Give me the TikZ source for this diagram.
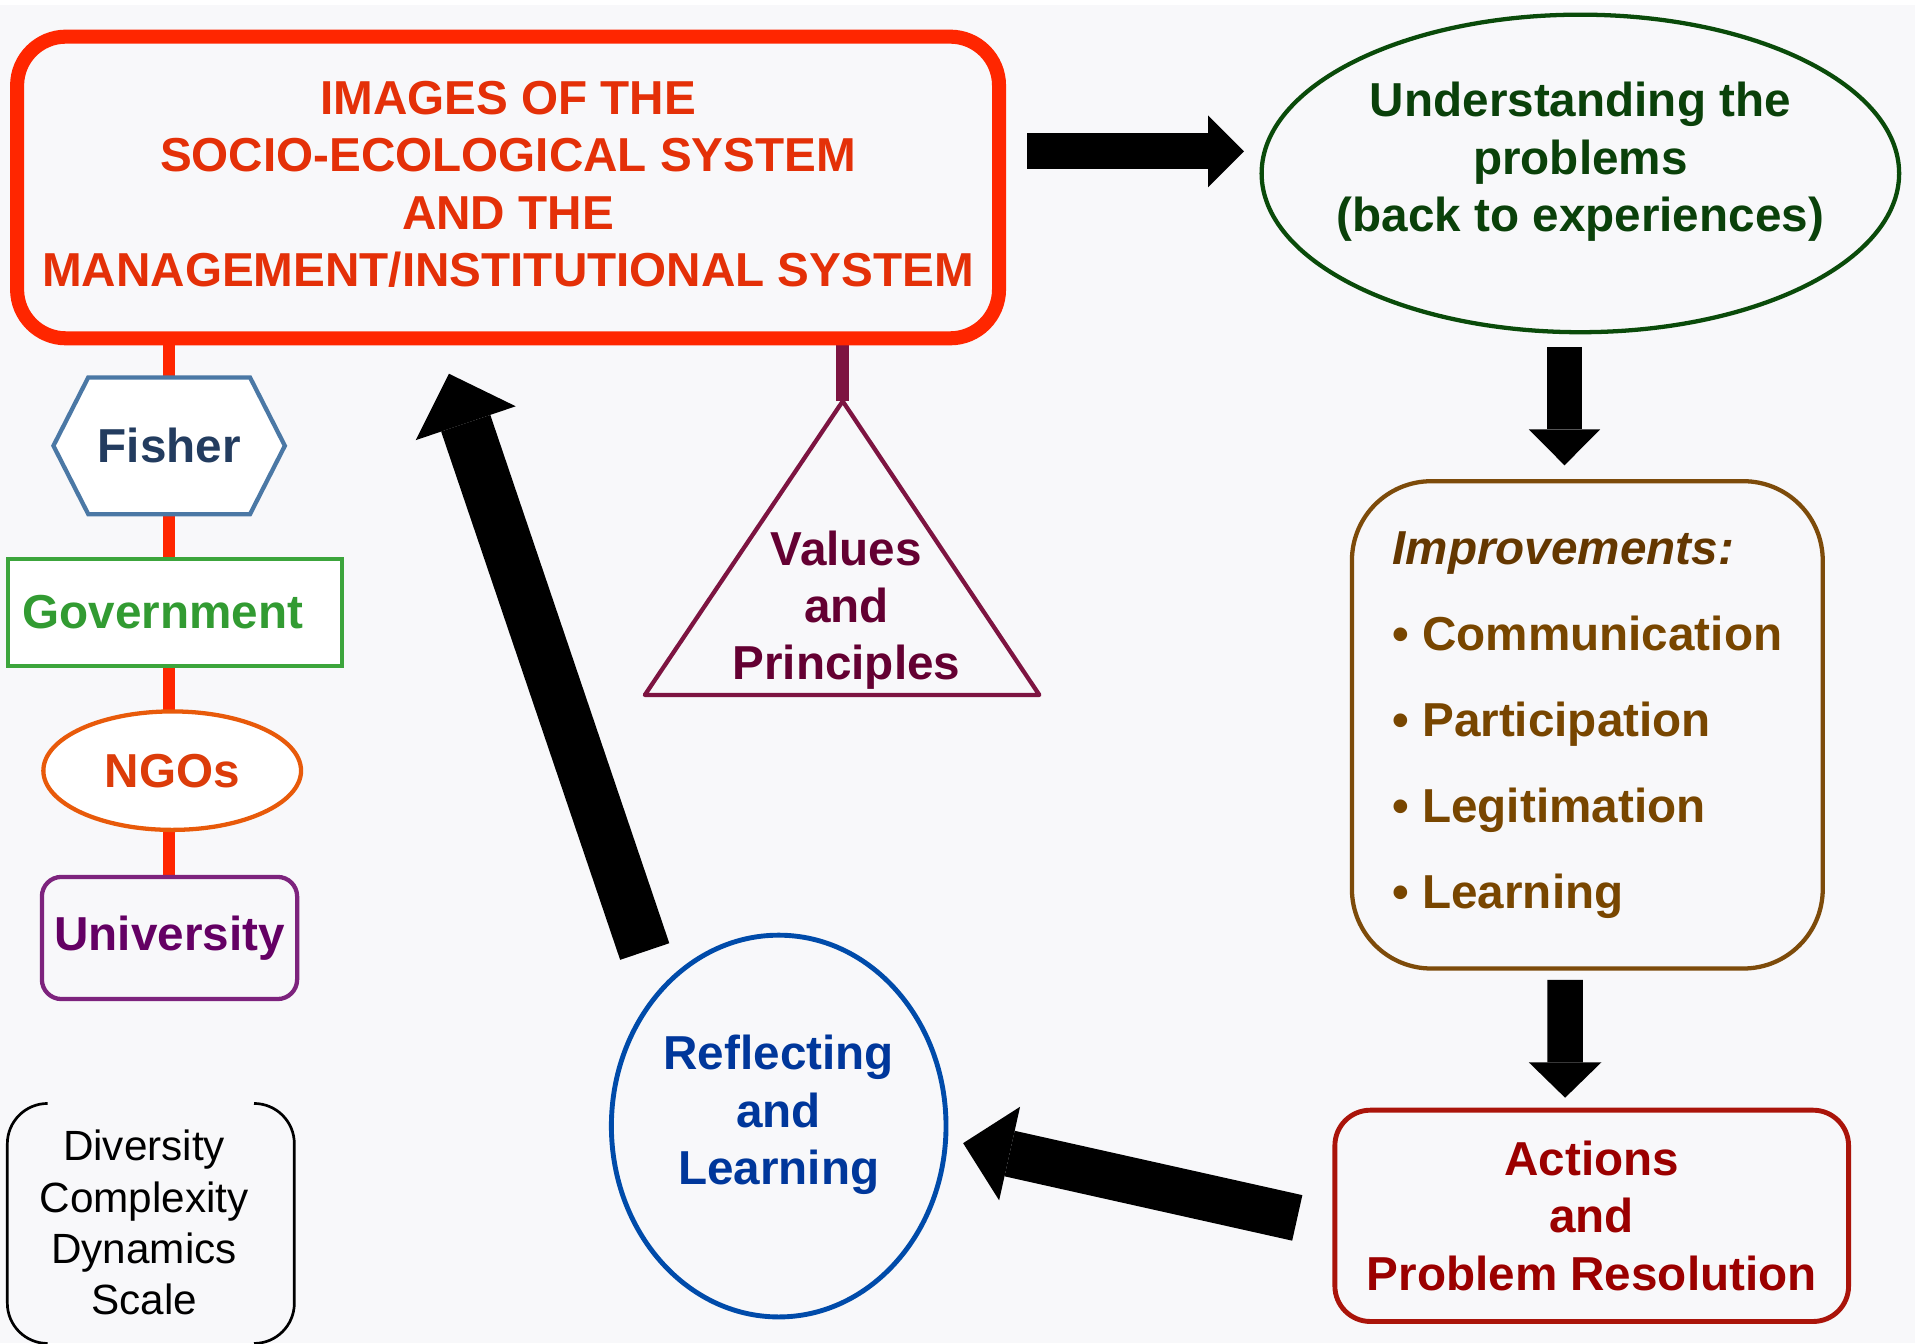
\documentclass[tikz,border=0pt]{standalone}
\usepackage{fontspec}
\setmainfont{Liberation Sans}
\usetikzlibrary{arrows.meta,shapes.geometric,shapes.symbols}

\definecolor{paper}{RGB}{248,248,250}
\definecolor{imgred}{RGB}{255,38,0}
\definecolor{imgtxt}{RGB}{228,48,8}
\definecolor{fishline}{RGB}{75,120,165}
\definecolor{fishtxt}{RGB}{35,60,95}
\definecolor{govline}{RGB}{60,165,60}
\definecolor{govtxt}{RGB}{50,155,50}
\definecolor{ngoline}{RGB}{232,90,10}
\definecolor{ngotxt}{RGB}{220,60,10}
\definecolor{uniline}{RGB}{125,35,125}
\definecolor{unitxt}{RGB}{100,0,100}
\definecolor{valline}{RGB}{125,20,65}
\definecolor{valtxt}{RGB}{100,0,50}
\definecolor{undline}{RGB}{10,75,10}
\definecolor{undtxt}{RGB}{10,65,10}
\definecolor{impline}{RGB}{125,75,10}
\definecolor{imptxt}{RGB}{120,70,0}
\definecolor{impdark}{RGB}{100,55,0}
\definecolor{actline}{RGB}{170,20,10}
\definecolor{acttxt}{RGB}{155,0,0}
\definecolor{refline}{RGB}{0,75,170}
\definecolor{reftxt}{RGB}{0,55,155}

\newcommand{\pxl}{0.02cm}
\pgfdeclarelayer{back}
\pgfsetlayers{back,main}

\tikzset{
  shapebox/.style={draw, line width=3.5*\pxl},
  fatarrow/.style n args={3}{draw=black, line width=#1,
    -{Triangle[width=#2,length=#3,line width=0pt]}},
}

\begin{document}
\begin{tikzpicture}[x=0.02cm, y=-0.02cm,
  every node/.style={font=\bfseries\fontsize{22.2}{26.7}\selectfont,
    align=center, inner sep=0pt, outer sep=0pt}]
\useasboundingbox (0,0) rectangle (1568,1100);
\begin{pgfonlayer}{back}
\fill[paper] (0,0) rectangle (1568,1100);
\fill[white] (0,0) rectangle (1568,4);
\end{pgfonlayer}

% the images box
\node[shapebox, draw=imgred, line width=11.5*\pxl, rounded corners=40*\pxl,
  minimum width=804*\pxl, minimum height=247*\pxl, text depth=0.12cm, text=imgtxt] (img) at (416,153.5)
  {IMAGES OF THE\\SOCIO-ECOLOGICAL SYSTEM\\AND THE\\MANAGEMENT/INSTITUTIONAL SYSTEM};

% the actors
\node[shapebox, signal, signal to=east and west, signal pointer angle=126,
  draw=fishline, fill=white, text=fishtxt,
  minimum width=189.5*\pxl, minimum height=112*\pxl] (fisher) at (138.5,365) {Fisher};
\node[shapebox, draw=govline, fill=white, text=govtxt, text width=250*\pxl,
  inner xsep=11.75*\pxl, minimum height=87.5*\pxl, align=left] (gov) at (143.5,501.5) {Government};
\node[shapebox, ellipse, draw=ngoline, fill=white, text=ngotxt,
  minimum width=211*\pxl, minimum height=97*\pxl] (ngo) at (141,631) {NGOs};
\node[shapebox, draw=uniline, rounded corners=16*\pxl, text=unitxt,
  minimum width=209*\pxl, minimum height=100*\pxl] (uni) at (138.8,768) {University};
\begin{pgfonlayer}{back}
\draw[imgred, line width=10*\pxl] (img.south -| fisher) -- (uni.north -| fisher);
\end{pgfonlayer}

% values and principles
\coordinate (apex) at (690,328.5);
\draw[valline, line width=3.5*\pxl, line join=round] (apex) -- (851,569) -- (528,569) -- cycle;
\node[text=valtxt] (vals) at (693,499.5) {Values\\and\\Principles};
\begin{pgfonlayer}{back}
\draw[valline, line width=10.5*\pxl] (apex) -- (apex |- img.south);
\end{pgfonlayer}

% the cycle
\node[shapebox, ellipse, draw=undline, minimum width=522*\pxl, minimum height=260*\pxl] (und) at (1294,142) {};
\node[text=undtxt] (undlabel) at (1294,132.5) {Understanding the\\problems\\(back to experiences)};
\node[shapebox, draw=impline, rounded corners=65*\pxl, minimum width=385.5*\pxl,
  minimum height=399*\pxl, align=left, text=imptxt,
  font=\bfseries\fontsize{22.2}{40.1}\selectfont] (imp) at (1299.7,593.5)
  {{\itshape\color{impdark}Improvements:}\\• Communication\\• Participation\\• Legitimation\\• Learning};
\node[shapebox, draw=actline, line width=4*\pxl, rounded corners=29*\pxl,
  minimum width=420.6*\pxl, minimum height=173*\pxl, text=acttxt] (act) at (1303.3,995.5)
  {Actions\\and\\Problem Resolution};
\node[shapebox, ellipse, draw=refline, line width=4*\pxl, minimum width=274*\pxl,
  minimum height=312.6*\pxl] (ref) at (637.6,922) {};
\node[text=reftxt] (reflabel) at (637.6,913) {Reflecting\\and\\Learning};

% the block arrows
\draw[fatarrow={0.59cm}{1.18cm}{0.59cm}] ([shift={(23,-29.5)}]img.east) -- ([shift={(-14.4,-18)}]und.west);
\draw[fatarrow={0.58cm}{1.17cm}{0.59cm}] ([shift={(-13,12.4)}]und.south) -- ([shift={(-18.7,-13)}]imp.north);
\draw[fatarrow={0.58cm}{1.19cm}{0.58cm}] ([shift={(-18.2,9.4)}]imp.south) -- ([shift={(-21.8,-10.2)}]act.north);
\draw[fatarrow={0.764cm}{1.57cm}{0.78cm}] ([shift={(-30.8,1.7)}]act.west) -- ([shift={(14,14)}]ref.east);
\draw[fatarrow={0.85cm}{1.73cm}{0.856cm}] ([shift={(-109.7,13.4)}]ref.north) -- ([shift={(-48.4,29)}]img.south);

% the open box
\node[font=\fontsize{19.7}{23.9}\selectfont] (div) at (118,1001) {Diversity\\Complexity\\Dynamics\\Scale};
\draw[line width=2.2*\pxl] (39,903.5) arc[start angle=270, end angle=180, radius=33]
  -- (6,1067) arc[start angle=180, end angle=90, radius=33];
\draw[line width=2.2*\pxl] (208,903.5) arc[start angle=-90, end angle=0, radius=33]
  -- (241,1067) arc[start angle=0, end angle=90, radius=33];
\end{tikzpicture}
\end{document}
